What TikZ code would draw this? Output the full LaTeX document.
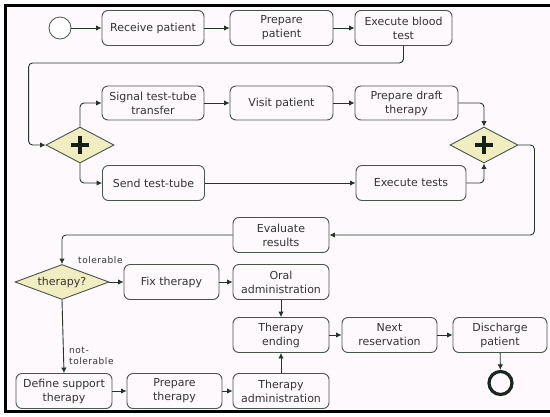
\documentclass[tikz,border=0pt]{standalone}
\usepackage{fontspec}
\setmainfont{DejaVu Sans}
\newfontfamily\labelfont[LetterSpace=6]{DejaVu Sans}
\usetikzlibrary{shapes.geometric,arrows.meta}

\definecolor{canvas}{RGB}{253,249,253}
\definecolor{wire}{RGB}{36,54,42}
\definecolor{boxline}{RGB}{72,84,76}
\definecolor{gatefill}{RGB}{240,238,192}
\definecolor{inkgray}{RGB}{52,52,52}

\tikzset{
  task/.style={draw=boxline, line width=0.9pt, rounded corners=6pt, fill=canvas,
    minimum width=96pt, minimum height=35pt, inner sep=2pt, align=center,
    text=inkgray, font=\fontsize{11}{14}\selectfont},
  gate/.style={diamond, draw=boxline, line width=0.9pt, fill=gatefill,
    minimum width=68pt, minimum height=36pt, inner sep=0pt, aspect=2},
  plusgate/.style={gate, path picture={
    \draw[wire!60!black, line width=3.2pt]
      ([xshift=-9pt]path picture bounding box.center) -- ([xshift=9pt]path picture bounding box.center)
      ([yshift=-9pt]path picture bounding box.center) -- ([yshift=9pt]path picture bounding box.center);}},
  flow/.style={draw=wire, line width=0.9pt, rounded corners=4pt, -{Latex[length=5.5pt,width=5.5pt]}},
  lbl/.style={inner sep=0pt, align=left, text=inkgray, font=\fontsize{9}{11}\labelfont},
}

\begin{document}
\begin{tikzpicture}[x=1pt,y=-1pt]
\useasboundingbox (0,0) rectangle (550,416);
\fill[white] (0,0) rectangle (550,416);
\fill[canvas] (5.5,5.5) rectangle (550,411.5);
\draw[line width=3pt] (550,5.5) -- (5.5,5.5) -- (5.5,411.5) -- (550,411.5);

% first row
\node (start) at (60,28) [circle, draw=boxline, fill=white, line width=0.8pt, minimum size=22pt, inner sep=0pt] {};
\node (recv) at (153,28) [task, minimum width=102pt] {Receive patient};
\node (prep) at (281.5,28) [task, minimum width=103pt] {Prepare\\patient};
\node (blood) at (403.5,28) [task, minimum width=97pt] {Execute blood\\test};

% parallel part
\node (gsplit) at (80,145) [plusgate] {};
\node (signal) at (153,103) [task, minimum width=102pt, minimum height=34pt] {Signal test-tube\\transfer};
\node (visit) at (281.5,103) [task, minimum width=103pt, minimum height=34pt] {Visit patient};
\node (draft) at (406.5,103) [task, minimum width=103pt, minimum height=34pt] {Prepare draft\\therapy};
\node (send) at (153.5,183) [task, minimum width=102pt] {Send test-tube};
\node (tests) at (411,183) [task, minimum width=110pt] {Execute tests};
\node (gjoin) at (484,145) [plusgate] {};

% evaluation and therapy
\node (eval) at (281,235) [task] {Evaluate\\results};
\node (decide) at (62,282) [gate, aspect=2.7, minimum width=94pt, minimum height=35pt, text=inkgray, font=\fontsize{11}{14}\selectfont] {therapy?};
\node (fix) at (171.5,282) [task, minimum width=95pt] {Fix therapy};
\node (oral) at (281,282) [task] {Oral\\administration};
\node (ending) at (281,335) [task] {Therapy\\ending};
\node (next) at (389.5,335) [task, minimum width=95pt] {Next\\reservation};
\node (disch) at (500,335) [task, minimum width=94pt] {Discharge\\patient};
\node (finish) at (500.5,383) [circle, draw=wire!70!black, line width=3.2pt, minimum size=23pt, inner sep=0pt] {};
\node (define) at (64,391) [task] {Define support\\therapy};
\node (prepT) at (174.5,391) [task, minimum width=95pt] {Prepare\\therapy};
\node (admin) at (281,391) [task] {Therapy\\administration};

\node (tolLbl) at (78,263) [lbl, anchor=base west] {tolerable};
\node (notLbl) at (69,347) [lbl, anchor=north west] {not-\\tolerable};

% connectors
\draw[flow] (start) -- (recv);
\draw[flow] (recv) -- (prep);
\draw[flow] (prep) -- (blood);
\draw[flow] (blood.south) -- ++(0,17) -| ([xshift=-17pt]gsplit.west) -- (gsplit.west);
\draw[flow] (gsplit.north) |- (signal.west);
\draw[flow] (gsplit.south) |- (send.west);
\draw[flow] (signal) -- (visit);
\draw[flow] (visit) -- (draft);
\draw[flow] (draft.east) -| (gjoin.north);
\draw[flow] (send) -- (tests);
\draw[flow] (tests.east) -| (gjoin.south);
\draw[flow] (gjoin.east) -- ++(16,0) |- (eval.east);
\draw[flow] (eval.west) -| (decide.north);
\draw[flow] (decide.east) -- (fix.west);
\draw[flow] (decide.south) -- (define.north);
\draw[flow] (fix) -- (oral);
\draw[flow] (oral) -- (ending);
\draw[flow] (admin) -- (ending);
\draw[flow] (define) -- (prepT);
\draw[flow] (prepT) -- (admin);
\draw[flow] (ending) -- (next);
\draw[flow] (next) -- (disch);
\draw[flow] (disch) -- (finish);

\end{tikzpicture}
\end{document}
